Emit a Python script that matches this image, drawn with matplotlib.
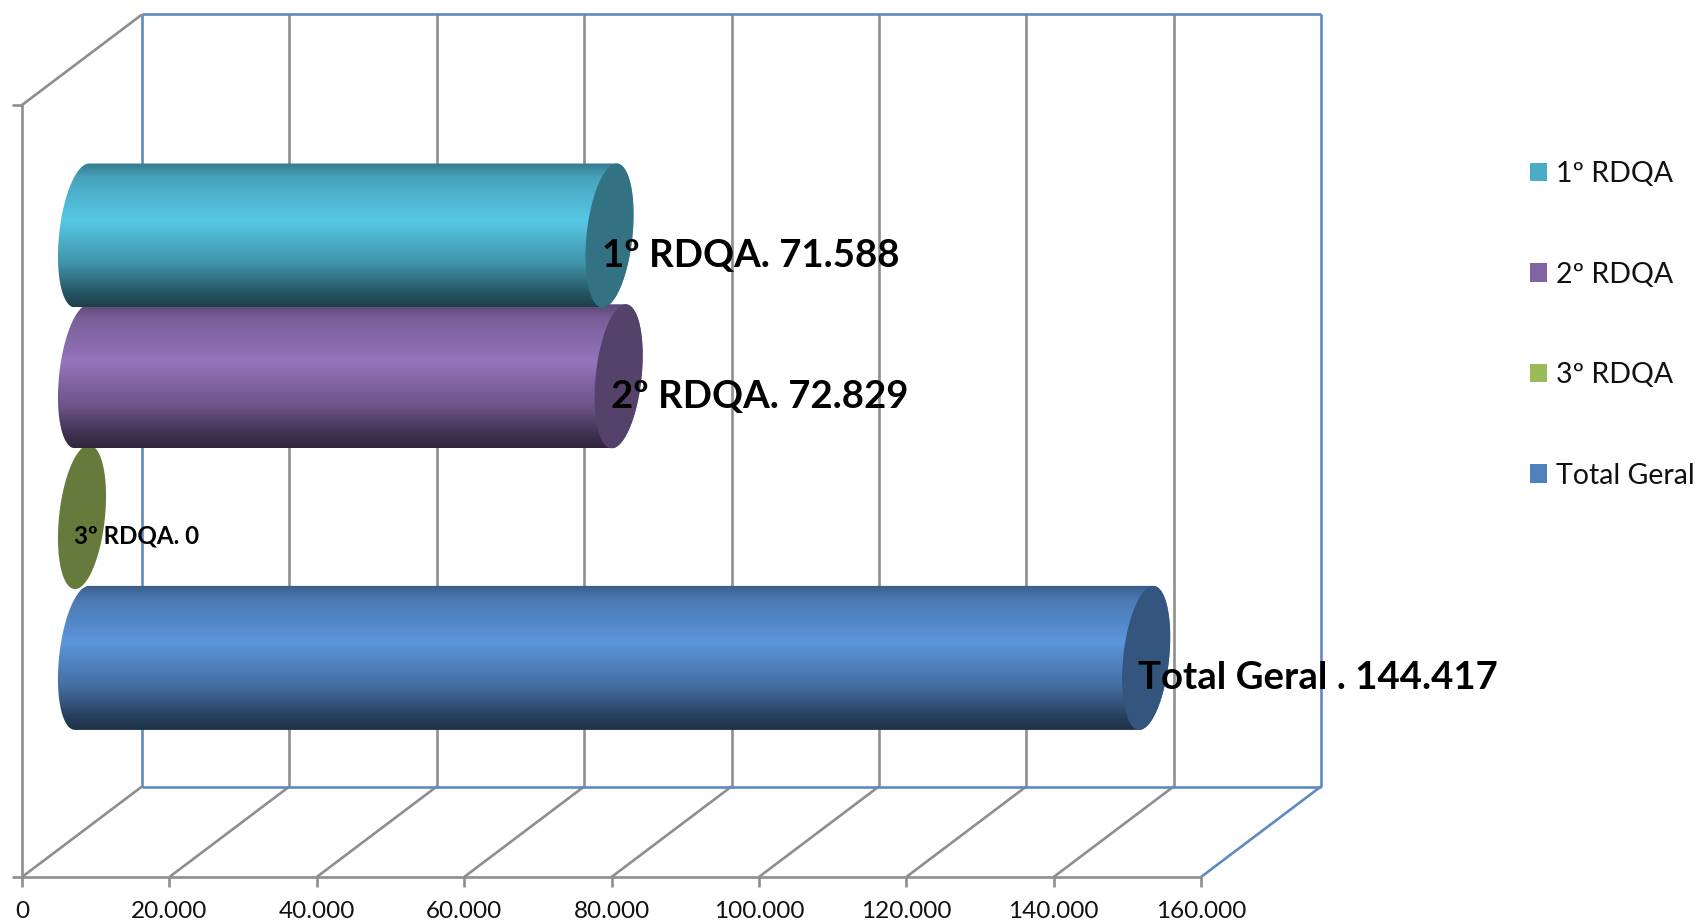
import numpy as np
import matplotlib
matplotlib.use("Agg")
import matplotlib.pyplot as plt
from matplotlib.patches import Patch, PathPatch, Polygon
from matplotlib.path import Path

# data
series_names = ["1º RDQA", "2º RDQA", "3º RDQA", "Total Geral"]
series_values = [71588, 72829, 0, 144417]
value_labels = ["1º RDQA. 71.588", "2º RDQA. 72.829", "3º RDQA. 0", "Total Geral . 144.417"]
x_ticks = [0, 20000, 40000, 60000, 80000, 100000, 120000, 140000, 160000]
x_tick_labels = ["0", "20.000", "40.000", "60.000", "80.000", "100.000", "120.000", "140.000", "160.000"]

# styles
colors = ["#4BACC6", "#8064A2", "#9BBB59", "#4F81BD"]
grey = "#8E8E8E"
blue = "#5F8AC0"
W, H = 1702, 921
plt.rcParams["font.family"] = ["Lato", "DejaVu Sans"]

# front plane of the chart in pixels
left_px, right_px, bottom_px, top_px = 22, 1201, 877, 105
row_px = 140.8   # pixels between bars
first_row_px = 235.5
val_per_px = 160000 / (right_px - left_px)

fig = plt.figure(figsize=(W / 100, H / 100), dpi=100, facecolor="white")
ax = fig.add_axes([left_px / W, 1 - bottom_px / H, (right_px - left_px) / W, (bottom_px - top_px) / H])

def px_x(p):
    return p * val_per_px

def px_y(p):
    return p / row_px

depth_x = px_x(120)
depth_y = px_y(90.5)
ymax = (bottom_px - first_row_px) / row_px
ymin = (top_px - first_row_px) / row_px

# walls and floor, all outside the axes box so no clipping
back_y_top = ymin - depth_y
back_y_bot = ymax - depth_y
line_kw = dict(clip_on=False, lw=1.9, solid_capstyle="butt", zorder=1)
for i, v in enumerate(x_ticks):
    x_back = v + depth_x
    is_first = i == 0
    is_last = i == len(x_ticks) - 1
    c = blue if (is_first or is_last) else grey
    ax.plot([x_back, x_back], [back_y_top, back_y_bot], color=c, **line_kw)
    ax.plot([v, x_back], [ymax, back_y_bot], color=blue if is_last else grey, **line_kw)
ax.plot([depth_x, 160000 + depth_x], [back_y_top, back_y_top], color=blue, **line_kw)
ax.plot([depth_x, 160000 + depth_x], [back_y_bot, back_y_bot], color=blue, **line_kw)
ax.plot([0, depth_x], [ymin, back_y_top], color=grey, **line_kw)

# cylinders
bar_dx = px_x(60)      # how far the bars sit inside the depth
ell_a = px_x(23)
ell_s = px_x(7)
ell_b = px_y(72)
stops = [0.0, 0.1, 0.4, 0.7, 0.9, 1.0]
shade = [0.72, 0.95, 1.16, 0.85, 0.5, 0.38]
rows = np.linspace(0, 1, 200)
profile = np.interp(rows, stops, shade)

def ellipse_xy(cx, cy, t):
    return cx + ell_a * np.cos(t) + ell_s * np.sin(t), cy - ell_b * np.sin(t)

# last series goes under the earlier ones
for i in reversed(range(len(series_values))):
    z = 5 + (len(series_values) - i) * 2
    cy = i
    x0 = bar_dx
    x1 = bar_dx + series_values[i]
    rgb = np.array(matplotlib.colors.to_rgb(colors[i]))
    if series_values[i] > 0:
        t_l = np.linspace(np.pi / 2, 3 * np.pi / 2, 60)
        t_r = np.linspace(-np.pi / 2, np.pi / 2, 60)
        xl, yl = ellipse_xy(x0, cy, t_l)
        xr, yr = ellipse_xy(x1, cy, t_r)
        verts = np.column_stack([np.r_[xl, xr], np.r_[yl, yr]])
        grad = np.clip(rgb[None, None, :] * profile[:, None, None], 0, 1)
        im = ax.imshow(grad, extent=(x0 - ell_a * 1.2, x1 + ell_a * 1.2, cy + ell_b, cy - ell_b),
                       origin="upper", aspect="auto", zorder=z, interpolation="bilinear")
        clip = PathPatch(Path(verts), transform=ax.transData, fc="none", ec="none")
        ax.add_patch(clip)
        im.set_clip_path(clip)
    t = np.linspace(0, 2 * np.pi, 120)
    xc, yc = ellipse_xy(x1, cy, t)
    ax.add_patch(Polygon(np.column_stack([xc, yc]), closed=True, fc=rgb * 0.66, ec="none", zorder=z + 1))

# data labels
label_sizes = [27.6, 27.6, 17.4, 27.6]
label_drop = [31.5, 31.5, 26.5, 31]
for i, label in enumerate(value_labels):
    ax.text(bar_dx + series_values[i] - px_x(8), i + px_y(label_drop[i]), label,
            fontsize=label_sizes[i], fontweight="bold", color="black", ha="left", va="baseline",
            zorder=30, clip_on=False)

ax.set_xlim(0, 160000)
ax.set_ylim(ymax, ymin)
ax.set_xticks(x_ticks)
ax.set_xticklabels(x_tick_labels)
ax.set_yticks([ymin, ymax])
ax.set_yticklabels(["", ""])
ax.tick_params(axis="both", color=grey, width=1.9, length=7)
ax.tick_params(axis="x", labelsize=17.5, pad=10, labelcolor="#111111")
ax.patch.set_visible(False)
for side in ["top", "right"]:
    ax.spines[side].set_visible(False)
for side in ["left", "bottom"]:
    ax.spines[side].set_color(grey)
    ax.spines[side].set_linewidth(1.9)

handles = [Patch(fc=c, ec="none") for c in colors]
fig.legend(handles, series_names, loc="upper left", bbox_to_anchor=(1529.5 / W, 1 - 161 / H),
           bbox_transform=fig.transFigure, frameon=False, fontsize=20.5, handlelength=0.63,
           handleheight=0.63, handletextpad=0.3, labelspacing=2.62, borderpad=0, borderaxespad=0,
           labelcolor="#111111")

fig.savefig("out.png", dpi=100)
